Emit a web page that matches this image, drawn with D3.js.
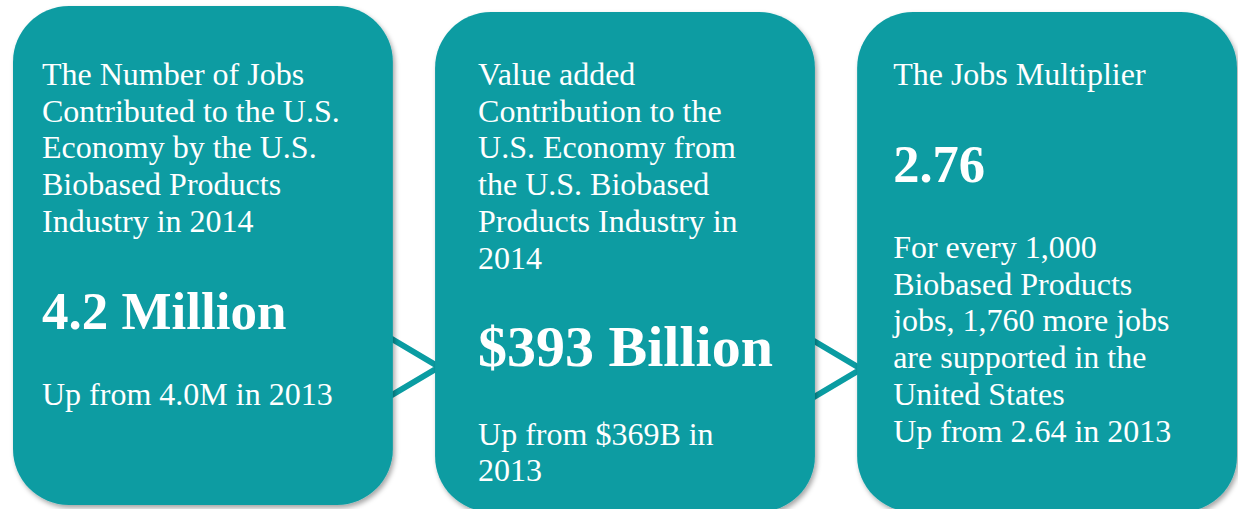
<!DOCTYPE html>
<html>
<head>
<meta charset="utf-8">
<script src="https://cdn.jsdelivr.net/npm/d3@7"></script>
<style>
body{margin:0;background:#ffffff;}
svg text{font-family:"Liberation Serif","Times New Roman",serif;fill:#ffffff;}
</style>
</head>
<body>
<svg id="Info"></svg>
<script>
// box keys
var boxes = ["jobs","value","multiplier"]
// heading lines of every box
var headings = [
    ["The Number of Jobs","Contributed to the U.S.","Economy by the U.S.","Biobased Products","Industry in 2014"],
    ["Value added","Contribution to the","U.S. Economy from","the U.S. Biobased","Products Industry in","2014"],
    ["The Jobs Multiplier"]
]
// the big numbers
var bigValues = ["4.2 Million","$393 Billion","2.76"]
// text under the big numbers
var footers = [
    ["Up from 4.0M in 2013"],
    ["Up from $369B in","2013"],
    ["For every 1,000","Biobased Products","jobs, 1,760 more jobs","are supported in the","United States","Up from 2.64 in 2013"]
]

var makeTranslateString = function(x,y)
{
    return "translate("+x+","+y+")";
}

var drawArrows = function(target,xScale,teal)
{
    //chevrons sit between the boxes, under them
    var pairs = boxes.slice(0,-1)
    target.selectAll("path.arrow")
    .data(pairs)
    .enter()
    .append("path")
    .classed("arrow",true)
    .attr("d",function(b,i){
        var x0 = xScale(b)+xScale.bandwidth()-6
        var x1 = xScale(boxes[i+1])+4
        var cy = 367+i*2
        return "M"+x0+","+(cy-31)+"L"+x1+","+cy+"L"+x0+","+(cy+31)+"Z"
    })
    .attr("fill","white")
    .attr("stroke",teal)
    .attr("stroke-width",6)
    .attr("stroke-linejoin","miter")
}

var drawBoxes = function(target,xScale,teal)
{
    target.selectAll("rect.box")
    .data(boxes)
    .enter()
    .append("rect")
    .classed("box",true)
    .attr("x",function(b){return xScale(b)})
    .attr("y",function(b,i){return i==0?6:12})
    .attr("width",xScale.bandwidth())
    .attr("height",function(b,i){return i==0?499:500})
    .attr("rx",56)
    .attr("ry",56)
    .attr("fill",teal)
    .attr("filter","url(#shadow)")
}

var drawTexts = function(target,xScale)
{
    var lineH = 36.7
    var top = 85
    var offsets = {jobs:29,value:43,multiplier:36}
    var bigSizes = [53,58,52.5]
    var groups = target.selectAll("g.boxText")
    .data(boxes)
    .enter()
    .append("g")
    .classed("boxText",true)
    .attr("transform",function(b){
        return makeTranslateString(xScale(b)+offsets[b],0)
    })

    groups.each(function(b,i){
        var g = d3.select(this)
        var head = headings[i]
        head.forEach(function(line,j){
            g.append("text")
            .text(line)
            .attr("x",0)
            .attr("y",top+j*lineH)
            .style("font-size","32px")
        })
        var lastHead = top+(head.length-1)*lineH
        var bigY = lastHead+97
        g.append("text")
        .text(bigValues[i])
        .attr("x",0)
        .attr("y",bigY)
        .style("font-size",bigSizes[i]+"px")
        .style("font-weight","bold")
        var footY = bigY+(i==1?79:76)
        footers[i].forEach(function(line,j){
            g.append("text")
            .text(line)
            .attr("x",0)
            .attr("y",footY+j*lineH)
            .style("font-size","32px")
        })
    })
}

var initInfo = function()
{
    var screen = {width:1238,height:509}
    var teal = "#0a9ca2"

    var svg = d3.select("#Info")
    .attr("width",screen.width)
    .attr("height",screen.height)

    var defs = svg.append("defs")
    var filter = defs.append("filter")
    .attr("id","shadow")
    .attr("x","-5%").attr("y","-5%")
    .attr("width","112%").attr("height","112%")
    filter.append("feDropShadow")
    .attr("dx",2)
    .attr("dy",3)
    .attr("stdDeviation",2.5)
    .attr("flood-color","#000")
    .attr("flood-opacity",0.35)

    var xScale = d3.scaleBand()
    .domain(boxes)
    .range([13,1237])
    .paddingInner(0.1)
    .paddingOuter(0)

    var g = svg.append("g")
    drawArrows(g,xScale,teal)
    drawBoxes(g,xScale,teal)
    drawTexts(g,xScale)
}

initInfo()
</script>
</body>
</html>
